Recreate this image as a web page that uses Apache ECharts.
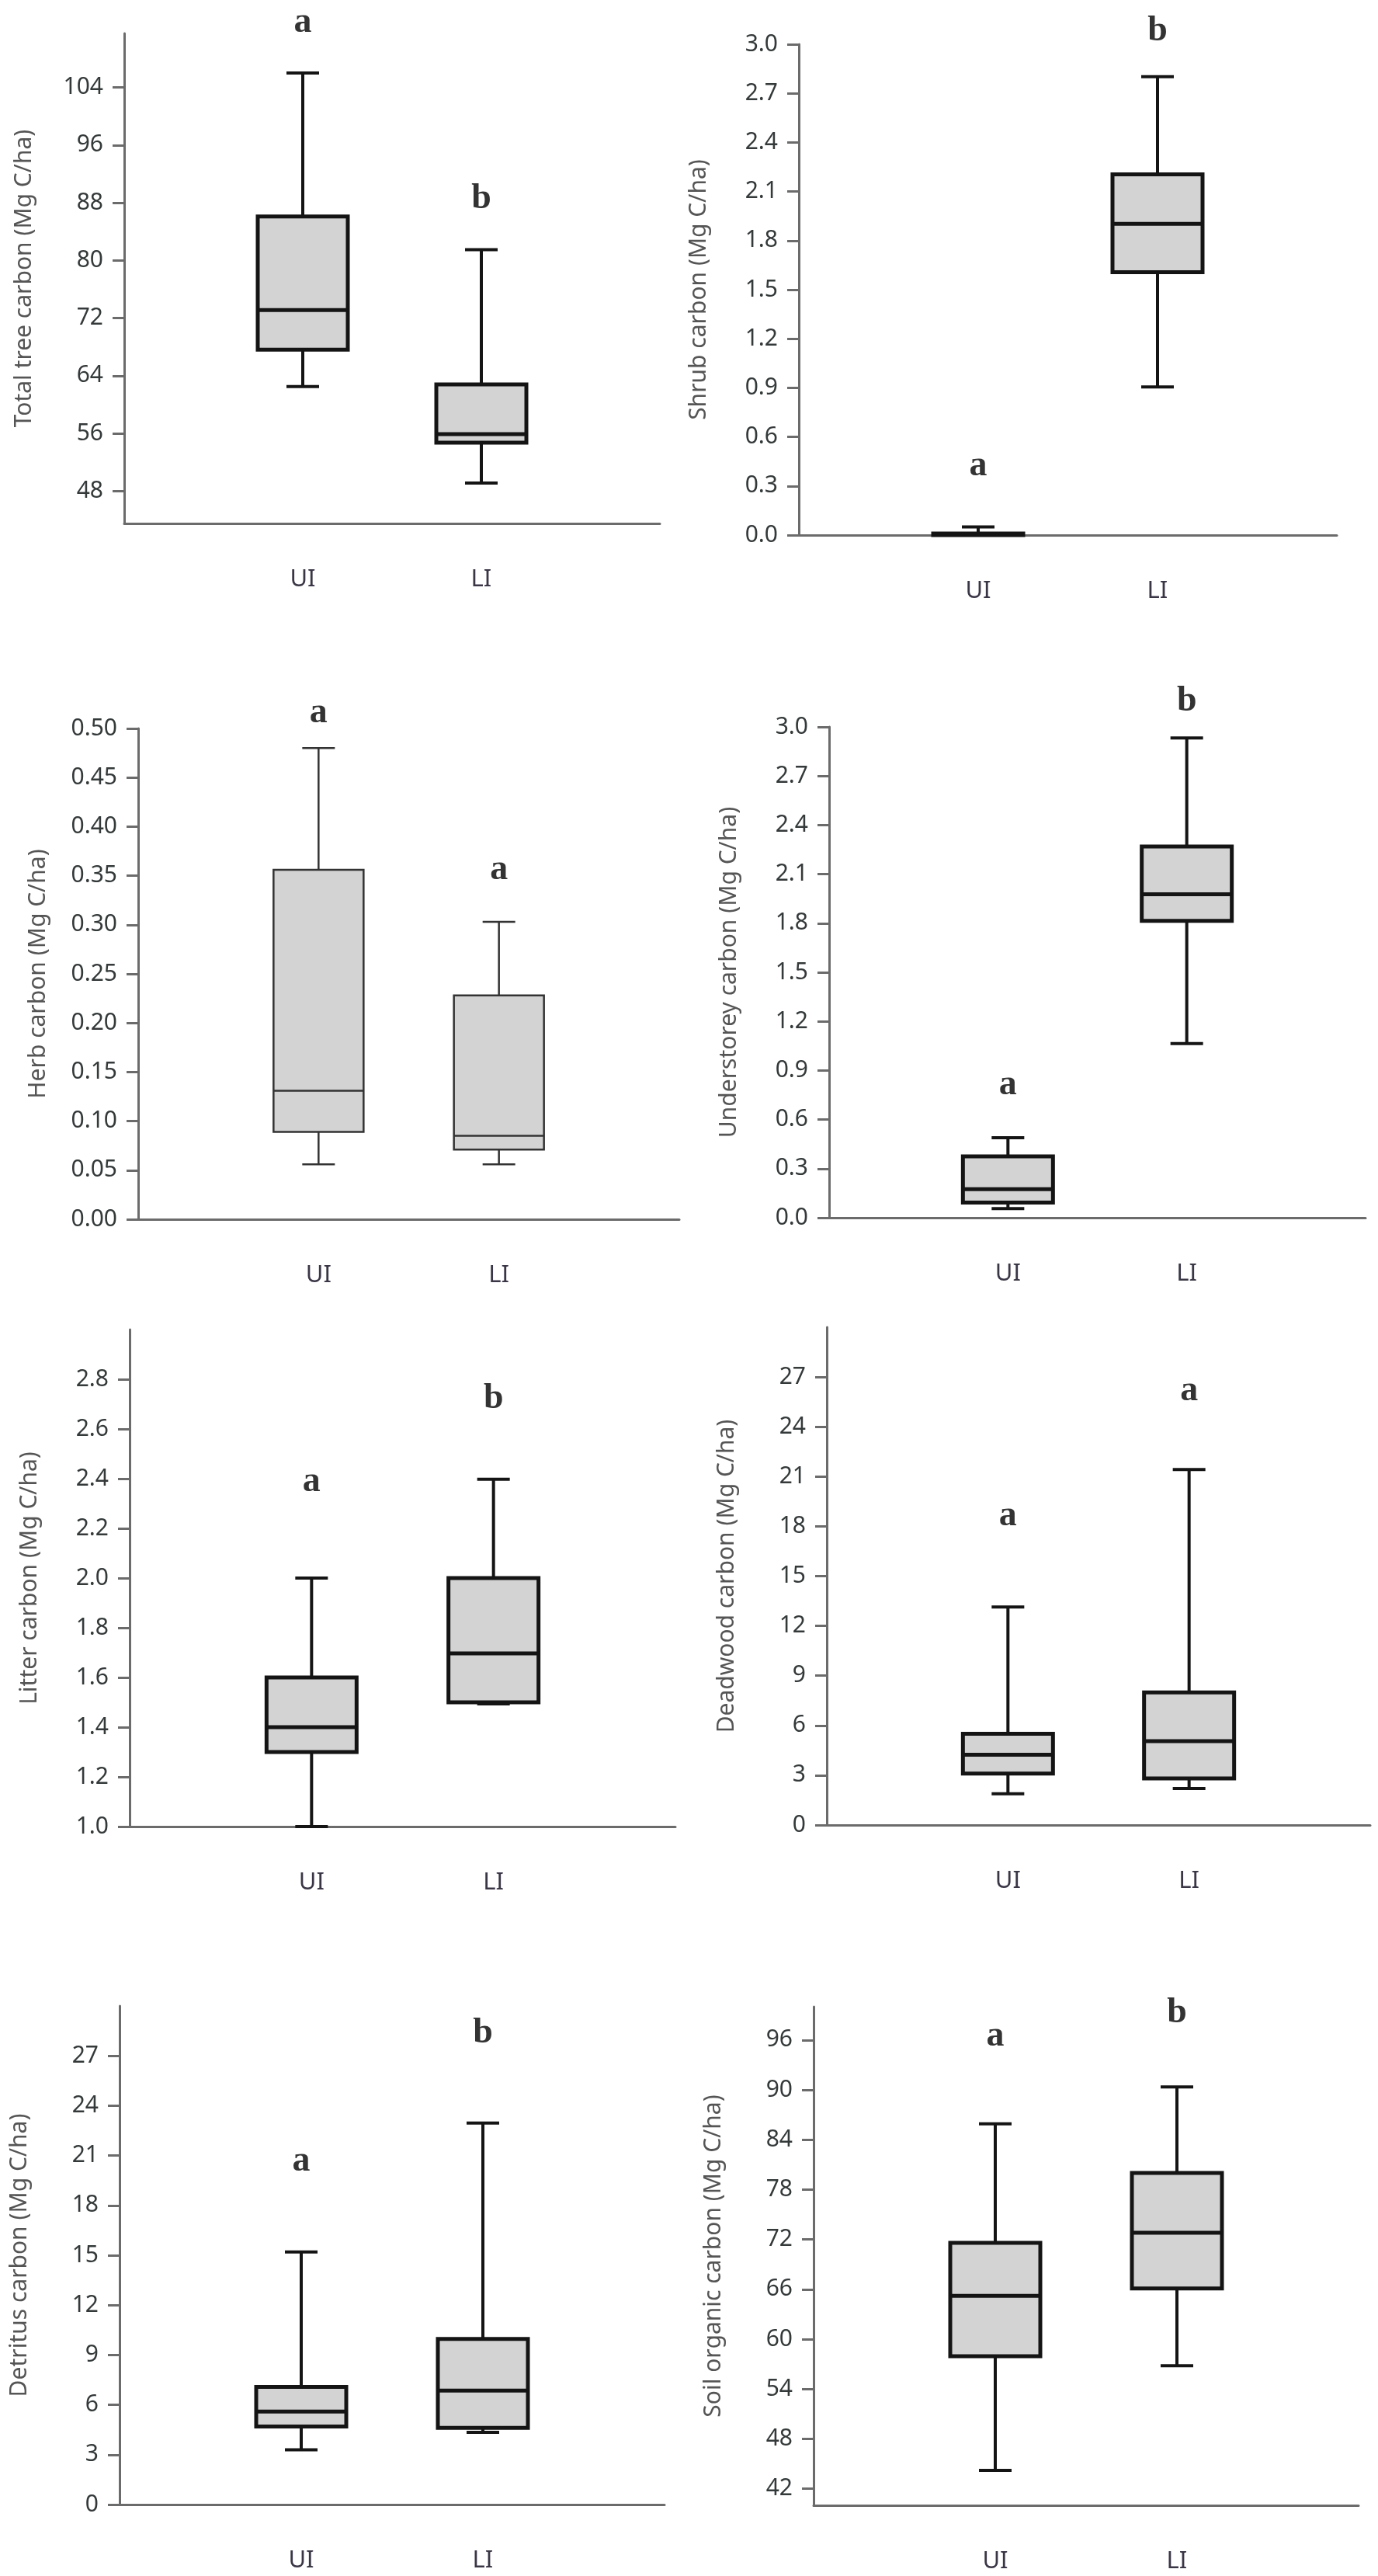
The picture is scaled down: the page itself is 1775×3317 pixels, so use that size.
<!DOCTYPE html>
<html style="height: 100%">
<head>
<meta charset="utf-8">
<title>Carbon stocks UI vs LI</title>
<script src="https://cdn.jsdelivr.net/npm/echarts@6.0.0/dist/echarts.min.js"></script>
</head>
<body style="height: 100%; margin: 0; background: #fff">
<div id="container" style="width: 1775px; height: 3317px"></div>
<script type="text/javascript">

const groups = ['UI', 'LI'];

// box stats: [min, Q1, median, Q3, max]
const treeUI = [62.5, 67.6, 73.1, 86.1, 106.0];
const treeLI = [49.1, 54.7, 55.9, 62.8, 81.5];
const shrubUI = [0, 0, 0.003, 0.01, 0.05];
const shrubLI = [0.905, 1.607, 1.902, 2.205, 2.802];
const herbUI = [0.056, 0.089, 0.131, 0.356, 0.480];
const herbLI = [0.056, 0.071, 0.085, 0.228, 0.303];
const underUI = [0.056, 0.092, 0.174, 0.375, 0.489];
const underLI = [1.065, 1.815, 1.977, 2.269, 2.932];
const litterUI = [1.0, 1.3, 1.4, 1.6, 2.0];
const litterLI = [1.494, 1.5, 1.697, 2.0, 2.398];
const deadUI = [1.88, 3.10, 4.23, 5.50, 13.14];
const deadLI = [2.20, 2.81, 5.06, 7.99, 21.42];
const detritusUI = [3.30, 4.70, 5.60, 7.08, 15.2];
const detritusLI = [4.34, 4.62, 6.86, 9.96, 22.95];
const socUI = [44.2, 57.95, 65.2, 71.6, 85.9];
const socLI = [56.8, 66.1, 72.8, 80.0, 90.35];

// significance letters (UI, LI) and the value each one sits at
const treeLetters = ['a', 'b'];      const treeLetterY = [113.0, 88.5];
const shrubLetters = ['a', 'b'];     const shrubLetterY = [0.42, 3.08];
const herbLetters = ['a', 'a'];      const herbLetterY = [0.516, 0.356];
const underLetters = ['a', 'b'];     const underLetterY = [0.81, 3.157];
const litterLetters = ['a', 'b'];    const litterLetterY = [2.387, 2.722];
const deadLetters = ['a', 'a'];      const deadLetterY = [18.63, 26.15];
const detritusLetters = ['a', 'b'];  const detritusLetterY = [20.65, 28.35];
const socLetters = ['a', 'b'];       const socLetterY = [96.4, 99.2];

// tick labels and axis extents
const treeTicks = [48, 56, 64, 72, 80, 88, 96, 104];
const shrubTicks = [0, 0.3, 0.6, 0.9, 1.2, 1.5, 1.8, 2.1, 2.4, 2.7, 3.0];
const herbTicks = [0, 0.05, 0.10, 0.15, 0.20, 0.25, 0.30, 0.35, 0.40, 0.45, 0.50];
const underTicks = [0, 0.3, 0.6, 0.9, 1.2, 1.5, 1.8, 2.1, 2.4, 2.7, 3.0];
const litterTicks = [1.0, 1.2, 1.4, 1.6, 1.8, 2.0, 2.2, 2.4, 2.6, 2.8];
const deadTicks = [0, 3, 6, 9, 12, 15, 18, 21, 24, 27];
const detritusTicks = [0, 3, 6, 9, 12, 15, 18, 21, 24, 27];
const socTicks = [42, 48, 54, 60, 66, 72, 78, 84, 90, 96];

const treeRange = [43.5, 111.5];
const shrubRange = [0, 3.0];
const herbRange = [0, 0.5];
const underRange = [0, 3.0];
const litterRange = [1.0, 3.0];
const deadRange = [0, 30];
const detritusRange = [0, 30];
const socRange = [40, 100];

const panels = [
  { title: 'Total tree carbon (Mg C/ha)', boxes: [treeUI, treeLI], letters: treeLetters, letterY: treeLetterY, ticks: treeTicks, range: treeRange, dec: 0 },
  { title: 'Shrub carbon (Mg C/ha)', boxes: [shrubUI, shrubLI], letters: shrubLetters, letterY: shrubLetterY, ticks: shrubTicks, range: shrubRange, dec: 1 },
  { title: 'Herb carbon (Mg C/ha)', boxes: [herbUI, herbLI], letters: herbLetters, letterY: herbLetterY, ticks: herbTicks, range: herbRange, dec: 2 },
  { title: 'Understorey carbon (Mg C/ha)', boxes: [underUI, underLI], letters: underLetters, letterY: underLetterY, ticks: underTicks, range: underRange, dec: 1 },
  { title: 'Litter carbon (Mg C/ha)', boxes: [litterUI, litterLI], letters: litterLetters, letterY: litterLetterY, ticks: litterTicks, range: litterRange, dec: 1 },
  { title: 'Deadwood carbon (Mg C/ha)', boxes: [deadUI, deadLI], letters: deadLetters, letterY: deadLetterY, ticks: deadTicks, range: deadRange, dec: 0 },
  { title: 'Detritus carbon (Mg C/ha)', boxes: [detritusUI, detritusLI], letters: detritusLetters, letterY: detritusLetterY, ticks: detritusTicks, range: detritusRange, dec: 0 },
  { title: 'Soil organic carbon (Mg C/ha)', boxes: [socUI, socLI], letters: socLetters, letterY: socLetterY, ticks: socTicks, range: socRange, dec: 0 }
];

// plot areas in pixels: [left, top, right, bottom]
const layout = [
  [160, 43, 850, 674],
  [1029, 57, 1722, 689],
  [178, 938, 875, 1570],
  [1068, 936, 1759, 1568],
  [167, 1712, 870, 2352],
  [1065, 1709, 1765, 2350],
  [154, 2583, 856, 3225],
  [1048, 2584, 1750, 3226]
];

const FONT = "'Noto Sans', 'DejaVu Sans', sans-serif";
const AXIS_COLOR = '#6b6b6b';
const BOX_W = 116;
const CAP_W = 42;

function boxRenderer(stroke, lw, whiskerLw) {
  return function (params, api) {
    const x = api.value(0);
    const p = [1, 2, 3, 4, 5].map(function (d) { return api.coord([x, api.value(d)]); });
    const cx = p[0][0];
    const line = function (x1, y1, x2, y2, w) {
      return { type: 'line', shape: { x1: x1, y1: y1, x2: x2, y2: y2 }, style: { stroke: stroke, lineWidth: w, lineCap: 'butt' } };
    };
    return {
      type: 'group',
      children: [
        line(cx, p[4][1], cx, p[3][1], whiskerLw),
        line(cx, p[1][1], cx, p[0][1], whiskerLw),
        line(cx - CAP_W / 2, p[4][1], cx + CAP_W / 2, p[4][1], whiskerLw),
        line(cx - CAP_W / 2, p[0][1], cx + CAP_W / 2, p[0][1], whiskerLw),
        {
          type: 'rect',
          shape: { x: cx - BOX_W / 2, y: p[3][1], width: BOX_W, height: p[1][1] - p[3][1] },
          style: { fill: '#d3d3d3', stroke: stroke, lineWidth: lw }
        },
        line(cx - BOX_W / 2, p[2][1], cx + BOX_W / 2, p[2][1], lw)
      ]
    };
  };
}

const grid = [], xAxis = [], yAxis = [], series = [];

panels.forEach(function (pn, i) {
  const L = layout[i];
  grid.push({ left: L[0], top: L[1], width: L[2] - L[0], height: L[3] - L[1], containLabel: false });

  xAxis.push({
    gridIndex: i,
    type: 'category',
    data: [''].concat(groups, ['']),
    boundaryGap: false,
    axisLine: { show: true, onZero: false, lineStyle: { color: AXIS_COLOR, width: 3 } },
    axisTick: { show: false },
    axisLabel: { interval: 0, margin: 57, fontSize: 31, color: '#3b3646', fontFamily: FONT },
    splitLine: { show: false }
  });

  yAxis.push({
    gridIndex: i,
    type: 'value',
    min: pn.range[0],
    max: pn.range[1],
    axisLine: { show: true, onZero: false, lineStyle: { color: AXIS_COLOR, width: 3 } },
    axisTick: { show: true, length: 15, customValues: pn.ticks, lineStyle: { color: AXIS_COLOR, width: 3 } },
    axisLabel: {
      customValues: pn.ticks,
      margin: 27,
      fontSize: 30,
      color: '#34393a',
      fontFamily: FONT,
      formatter: function (v) { return Number(v).toFixed(pn.dec); }
    },
    splitLine: { show: false },
    name: pn.title,
    nameLocation: 'middle',
    nameGap: 114,
    nameTextStyle: { fontSize: 30, color: '#555', fontFamily: FONT }
  });

  const thin = i === 2;
  series.push({
    type: 'custom',
    xAxisIndex: i,
    yAxisIndex: i,
    renderItem: boxRenderer(thin ? '#333' : '#141414', thin ? 2.5 : 5, thin ? 2.5 : 4),
    encode: { x: 0, y: [1, 2, 3, 4, 5] },
    data: pn.boxes.map(function (b, k) { return [k + 1].concat(b); }),
    clip: false,
    silent: true
  });

  series.push({
    type: 'scatter',
    xAxisIndex: i,
    yAxisIndex: i,
    symbolSize: 1,
    clip: false,
    itemStyle: { color: 'rgba(0,0,0,0)' },
    label: {
      show: true,
      position: 'inside',
      formatter: '{b}',
      fontFamily: "'Liberation Serif', 'Times New Roman', serif",
      fontWeight: 'bold',
      fontSize: 46,
      color: '#000'
    },
    data: pn.letters.map(function (t, k) { return { name: t, value: [k + 1, pn.letterY[k]] }; }),
    silent: true
  });
});

const chart = echarts.init(document.getElementById('container'));
chart.setOption({
  animation: false,
  backgroundColor: '#fff',
  grid: grid,
  xAxis: xAxis,
  yAxis: yAxis,
  series: series
});

</script>
</body>
</html>
